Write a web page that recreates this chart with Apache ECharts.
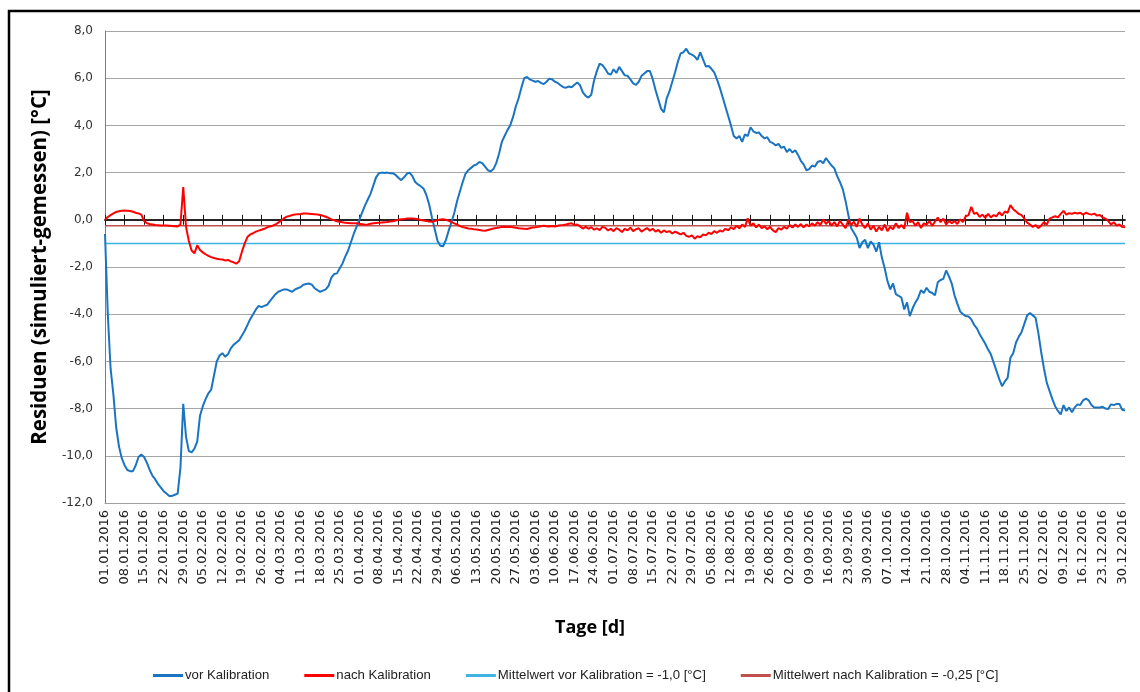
<!DOCTYPE html>
<html>
<head>
<meta charset="utf-8">
<title>Residuen 2016</title>
<script src="https://cdn.jsdelivr.net/npm/echarts@6/dist/echarts.min.js"></script>
<style>
  html, body { margin: 0; padding: 0; background: #fff; }
  #chart { width: 1140px; height: 692px; }
</style>
</head>
<body>
<div id="chart"></div>
<script>
// Daily residuals (simulated - measured) in °C, 01.01.2016 - 31.12.2016
const residualsBefore = [
  -0.6,-4.0,-6.3,-7.4,-8.8,-9.6,-10.1,-10.4,-10.6,-10.65,
  -10.65,-10.4,-10.05,-9.95,-10.05,-10.3,-10.6,-10.85,-11.0,-11.2,
  -11.35,-11.5,-11.6,-11.7,-11.7,-11.65,-11.6,-10.5,-7.8,-9.2,
  -9.8,-9.85,-9.7,-9.4,-8.3,-7.9,-7.6,-7.35,-7.2,-6.6,
  -6.0,-5.75,-5.65,-5.8,-5.7,-5.45,-5.3,-5.2,-5.1,-4.9,
  -4.7,-4.45,-4.2,-4.0,-3.8,-3.65,-3.7,-3.65,-3.6,-3.45,
  -3.3,-3.15,-3.05,-3.0,-2.95,-2.95,-3.0,-3.05,-2.95,-2.9,
  -2.85,-2.75,-2.72,-2.7,-2.75,-2.9,-2.98,-3.05,-3.0,-2.95,
  -2.8,-2.45,-2.3,-2.27,-2.05,-1.85,-1.55,-1.3,-0.95,-0.6,
  -0.3,0.0,0.3,0.6,0.85,1.1,1.45,1.8,1.97,2.0,
  1.98,2.0,1.97,1.97,1.9,1.78,1.68,1.8,1.95,2.0,
  1.85,1.6,1.5,1.42,1.32,1.05,0.65,0.1,-0.4,-0.9,
  -1.1,-1.12,-0.85,-0.45,-0.1,0.3,0.8,1.2,1.6,1.95,
  2.1,2.2,2.3,2.35,2.45,2.4,2.25,2.1,2.05,2.15,
  2.4,2.8,3.3,3.55,3.8,4.0,4.35,4.8,5.15,5.6,
  6.0,6.05,5.95,5.9,5.85,5.88,5.8,5.75,5.85,5.98,
  5.95,5.85,5.8,5.7,5.62,5.6,5.65,5.62,5.72,5.82,
  5.7,5.4,5.25,5.18,5.3,5.9,6.3,6.62,6.55,6.4,
  6.2,6.15,6.38,6.22,6.48,6.3,6.12,6.1,5.95,5.78,
  5.72,5.85,6.1,6.2,6.3,6.3,5.96,5.5,5.1,4.7,
  4.55,5.15,5.45,5.85,6.25,6.7,7.05,7.1,7.25,7.05,
  7.0,6.92,6.78,7.1,6.8,6.5,6.52,6.4,6.25,5.95,
  5.6,5.2,4.8,4.4,4.0,3.55,3.45,3.55,3.3,3.62,
  3.55,3.92,3.75,3.68,3.7,3.55,3.45,3.5,3.3,3.25,
  3.15,3.22,3.05,3.1,2.87,3.0,2.85,2.95,2.75,2.5,
  2.35,2.1,2.15,2.3,2.25,2.45,2.5,2.4,2.62,2.45,
  2.3,2.18,1.85,1.6,1.3,0.8,0.2,-0.35,-0.55,-0.75,
  -1.2,-0.95,-0.85,-1.2,-0.92,-1.05,-1.35,-0.95,-1.6,-2.05,
  -2.6,-2.95,-2.7,-3.15,-3.22,-3.3,-3.8,-3.5,-4.08,-3.75,
  -3.5,-3.3,-2.98,-3.1,-2.88,-3.05,-3.1,-3.2,-2.65,-2.55,
  -2.5,-2.15,-2.4,-2.7,-3.2,-3.55,-3.88,-4.0,-4.08,-4.1,
  -4.22,-4.45,-4.6,-4.85,-5.05,-5.25,-5.5,-5.7,-6.05,-6.4,
  -6.75,-7.05,-6.85,-6.7,-5.85,-5.65,-5.2,-4.95,-4.75,-4.4,
  -4.05,-3.95,-4.05,-4.15,-4.8,-5.6,-6.3,-6.9,-7.25,-7.6,
  -7.9,-8.1,-8.25,-7.85,-8.1,-7.95,-8.15,-7.95,-7.82,-7.85,
  -7.65,-7.58,-7.65,-7.85,-7.95,-7.95,-7.95,-7.92,-8.0,-8.02,
  -7.82,-7.85,-7.8,-7.8,-8.05,-8.08
];

const residualsAfter = [
  0.0,0.12,0.2,0.27,0.33,0.36,0.38,0.39,0.38,0.37,
  0.34,0.3,0.27,0.22,-0.05,-0.15,-0.18,-0.2,-0.22,-0.23,
  -0.24,-0.24,-0.24,-0.25,-0.26,-0.27,-0.28,-0.2,1.39,-0.3,
  -0.9,-1.3,-1.42,-1.08,-1.28,-1.38,-1.46,-1.53,-1.58,-1.62,
  -1.65,-1.67,-1.68,-1.72,-1.7,-1.76,-1.8,-1.86,-1.76,-1.35,
  -1.0,-0.72,-0.62,-0.57,-0.5,-0.46,-0.42,-0.38,-0.32,-0.28,
  -0.25,-0.2,-0.12,-0.05,0.06,0.13,0.16,0.2,0.22,0.24,
  0.25,0.27,0.27,0.26,0.25,0.24,0.22,0.2,0.17,0.13,
  0.08,0.02,-0.02,-0.06,-0.08,-0.1,-0.13,-0.14,-0.15,-0.15,
  -0.15,-0.17,-0.19,-0.21,-0.2,-0.17,-0.15,-0.14,-0.13,-0.11,
  -0.1,-0.09,-0.07,-0.06,-0.03,0.0,0.02,0.03,0.05,0.06,
  0.06,0.04,0.02,-0.01,-0.03,-0.05,-0.07,-0.08,-0.05,-0.02,
  0.01,0.02,0.0,-0.04,-0.1,-0.15,-0.2,-0.27,-0.31,-0.34,
  -0.37,-0.38,-0.4,-0.41,-0.43,-0.45,-0.46,-0.43,-0.4,-0.37,
  -0.35,-0.33,-0.3,-0.29,-0.31,-0.3,-0.32,-0.34,-0.36,-0.37,
  -0.38,-0.39,-0.36,-0.33,-0.32,-0.3,-0.27,-0.25,-0.27,-0.28,
  -0.26,-0.28,-0.25,-0.23,-0.22,-0.2,-0.17,-0.15,-0.22,-0.2,
  -0.28,-0.37,-0.3,-0.38,-0.31,-0.42,-0.36,-0.44,-0.3,-0.34,
  -0.45,-0.38,-0.48,-0.35,-0.42,-0.52,-0.38,-0.45,-0.33,-0.48,
  -0.4,-0.36,-0.5,-0.42,-0.35,-0.46,-0.38,-0.5,-0.43,-0.55,
  -0.45,-0.52,-0.48,-0.58,-0.5,-0.56,-0.62,-0.55,-0.68,-0.72,
  -0.66,-0.8,-0.7,-0.74,-0.62,-0.66,-0.55,-0.6,-0.48,-0.55,
  -0.45,-0.5,-0.38,-0.44,-0.32,-0.4,-0.25,-0.36,-0.2,-0.3,
  0.06,-0.25,-0.15,-0.32,-0.2,-0.35,-0.28,-0.4,-0.3,-0.45,
  -0.52,-0.35,-0.42,-0.3,-0.38,-0.22,-0.33,-0.2,-0.3,-0.18,
  -0.32,-0.2,-0.28,-0.15,-0.25,-0.1,-0.22,0.02,-0.18,-0.05,
  -0.25,-0.1,-0.28,-0.05,-0.2,-0.35,0.0,-0.22,-0.08,-0.3,
  0.05,-0.2,-0.35,-0.15,-0.42,-0.25,-0.5,-0.3,-0.45,-0.2,
  -0.48,-0.3,-0.4,-0.15,-0.35,-0.22,-0.38,0.3,-0.1,-0.05,
  -0.25,-0.1,-0.35,-0.15,-0.2,-0.05,-0.25,-0.08,0.1,-0.1,
  0.05,-0.2,-0.05,-0.15,-0.05,-0.18,0.02,-0.1,0.15,0.2,
  0.55,0.25,0.3,0.12,0.22,0.08,0.25,0.1,0.2,0.15,
  0.32,0.18,0.35,0.3,0.62,0.45,0.35,0.25,0.2,0.05,
  -0.12,-0.2,-0.3,-0.22,-0.35,-0.25,-0.1,-0.2,0.05,0.1,
  0.15,0.1,0.25,0.38,0.22,0.28,0.25,0.3,0.27,0.3,
  0.22,0.3,0.25,0.22,0.26,0.18,0.2,0.1,0.05,-0.05,
  -0.2,-0.1,-0.25,-0.2,-0.3,-0.32
];

// Mean residuals
const meanBefore = -1.0;
const meanAfter = -0.25;

// Series names
const seriesNames = [
  'vor Kalibration',
  'nach Kalibration',
  'Mittelwert vor Kalibration = -1,0 [°C]',
  'Mittelwert nach Kalibration = -0,25 [°C]'
];

// Y axis range and step
const yMin = -12, yMax = 8, yStep = 2;
// Week spacing for labels and ticks
const labelEvery = 7;

// One category per day of 2016
const startDay = new Date(Date.UTC(2016, 0, 1));
const days = residualsBefore.map((_, i) => {
  const d = new Date(startDay.getTime() + i * 86400000);
  const dd = String(d.getUTCDate()).padStart(2, '0');
  const mm = String(d.getUTCMonth() + 1).padStart(2, '0');
  return dd + '.' + mm + '.' + d.getUTCFullYear();
});
const firstDay = days[0], lastDay = days[days.length - 1];

const chart = echarts.init(document.getElementById('chart'), null, { renderer: 'canvas' });

// Zero line with crossing week ticks (one axis for the upper half, one for the lower half)
const zeroAxisBase = {
  type: 'category',
  data: days,
  boundaryGap: false,
  axisLine: { onZero: true, onZeroAxisIndex: 0, lineStyle: { color: '#1a1a1a', width: 1.5 } },
  axisTick: { show: true, interval: labelEvery - 1, length: 5, lineStyle: { color: '#1a1a1a', width: 1 } },
  axisLabel: { show: false },
  splitLine: { show: false }
};

chart.setOption({
  animation: false,
  backgroundColor: '#ffffff',
  graphic: [{
    type: 'rect',
    silent: true,
    shape: { x: 9, y: 11, width: 1160, height: 700 },
    style: { fill: null, stroke: '#000', lineWidth: 2.5 }
  }],
  grid: { left: 105, right: 15, top: 31, bottom: 189 },
  legend: {
    left: 148,
    top: 664,
    itemWidth: 30,
    itemHeight: 3,
    itemGap: 35,
    icon: 'rect',
    textStyle: { fontFamily: 'Liberation Sans', fontSize: 13.2, color: '#222', padding: [0, 0, 0, -3] },
    data: seriesNames
  },
  xAxis: [
    {
      type: 'category',
      data: days,
      boundaryGap: false,
      position: 'bottom',
      axisLine: { onZero: false, lineStyle: { color: '#a0a0a0', width: 1 } },
      axisTick: { show: false },
      axisLabel: {
        interval: labelEvery - 1,
        rotate: 90,
        margin: 7,
        fontFamily: 'DejaVu Sans',
        fontSize: 13,
        color: '#222'
      },
      splitLine: { show: false },
      name: 'Tage [d]',
      nameLocation: 'middle',
      nameGap: 116,
      nameTextStyle: { fontFamily: 'Open Sans', fontWeight: 'bold', fontSize: 18, color: '#000', padding: [0, 50, 0, 0] }
    },
    Object.assign({ position: 'top' }, zeroAxisBase),
    Object.assign({ position: 'bottom' }, zeroAxisBase)
  ],
  yAxis: {
    type: 'value',
    min: yMin,
    max: yMax,
    interval: yStep,
    axisLine: { show: true, lineStyle: { color: '#7f7f7f', width: 1 } },
    axisTick: { show: false },
    axisLabel: {
      margin: 12,
      fontFamily: 'DejaVu Sans',
      fontSize: 12,
      color: '#333',
      formatter: v => v.toFixed(1).replace('.', ',')
    },
    splitLine: { show: true, lineStyle: { color: '#a6a6a6', width: 1.2 } },
    name: 'Residuen (simuliert-gemessen) [°C]',
    nameLocation: 'middle',
    nameGap: 45,
    nameTextStyle: { fontFamily: 'Open Sans', fontWeight: 'bold', fontSize: 20.5, color: '#000' }
  },
  series: [
    {
      name: seriesNames[0],
      type: 'line',
      xAxisIndex: 0,
      data: residualsBefore,
      showSymbol: false,
      lineStyle: { color: '#1a74c2', width: 2 },
      itemStyle: { color: '#1a74c2' },
      z: 4
    },
    {
      name: seriesNames[1],
      type: 'line',
      xAxisIndex: 0,
      data: residualsAfter,
      showSymbol: false,
      lineStyle: { color: '#ff0000', width: 2 },
      itemStyle: { color: '#ff0000' },
      z: 5
    },
    {
      name: seriesNames[2],
      type: 'line',
      xAxisIndex: 0,
      data: [[firstDay, meanBefore], [lastDay, meanBefore]],
      showSymbol: false,
      lineStyle: { color: '#3eb3e4', width: 1.5 },
      itemStyle: { color: '#3eb3e4' },
      z: 3
    },
    {
      name: seriesNames[3],
      type: 'line',
      xAxisIndex: 0,
      data: [[firstDay, meanAfter], [lastDay, meanAfter]],
      showSymbol: false,
      lineStyle: { color: '#c0504d', width: 1.5 },
      itemStyle: { color: '#c0504d' },
      z: 3
    }
  ]
});
</script>
</body>
</html>
